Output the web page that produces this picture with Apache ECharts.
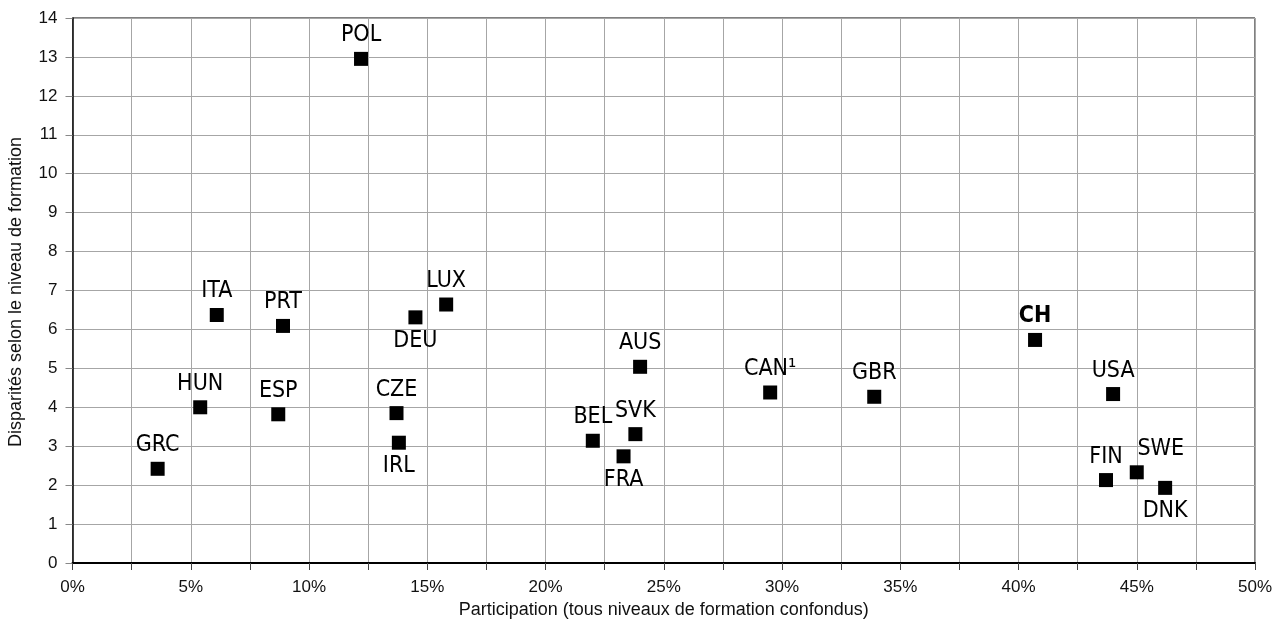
<!DOCTYPE html>
<html>
<head>
<meta charset="utf-8">
<script src="https://cdn.jsdelivr.net/npm/echarts@6/dist/echarts.min.js"></script>
<style>
html,body{margin:0;padding:0;background:#fff;}
#chart{width:1285px;height:624px;}
</style>
</head>
<body>
<div id="chart"></div>
<script>
// ---- data ----
const countries = ['GRC','HUN','ITA','PRT','ESP','POL','CZE','IRL','DEU','LUX','BEL','FRA','SVK','AUS','CAN¹','GBR','CH','USA','FIN','SWE','DNK'];
const participation = [3.6, 5.4, 6.1, 8.9, 8.7, 12.2, 13.7, 13.8, 14.5, 15.8, 22.0, 23.3, 23.8, 24.0, 29.5, 33.9, 40.7, 44.0, 43.7, 45.0, 46.2];
const disparity = [2.42, 4.00, 6.37, 6.09, 3.82, 12.95, 3.85, 3.09, 6.31, 6.64, 3.14, 2.74, 3.31, 5.04, 4.38, 4.27, 5.73, 4.34, 2.13, 2.33, 1.93];
const xTickValues = [0, 5, 10, 15, 20, 25, 30, 35, 40, 45, 50];
const xTickLabels = ['0%','5%','10%','15%','20%','25%','30%','35%','40%','45%','50%'];
const xAxisTitle = 'Participation (tous niveaux de formation confondus)';
const yAxisTitle = 'Disparités selon le niveau de formation';

// ---- label styling ----
const labelsBelow = ['IRL','DEU','FRA','DNK'];
const labelsRight = ['SWE'];
const labelsBold = ['CH'];

const labelFont = "'Liberation Sans Narrow','DejaVu Sans Condensed',sans-serif";
const axisFont = "'Liberation Sans',Arial,Helvetica,sans-serif";

const seriesData = participation.map((x, i) => {
  const name = countries[i];
  const below = labelsBelow.includes(name);
  const d = {
    name: name,
    value: [x, disparity[i]],
    label: {
      position: below ? 'bottom' : 'top',
      distance: 5
    }
  };
  if (labelsRight.includes(name)) d.label.offset = [24, 0];
  if (labelsBold.includes(name)) d.label.fontWeight = 'bold';
  return d;
});

const chart = echarts.init(document.getElementById('chart'), null, {renderer: 'canvas'});
chart.setOption({
  animation: false,
  backgroundColor: '#fff',
  grid: {
    left: 72.5, right: 30, top: 18, bottom: 57.7,
    show: true, borderColor: '#000', borderWidth: 1, backgroundColor: 'transparent'
  },
  xAxis: {
    type: 'value',
    min: 0, max: 50, interval: 2.5,
    name: xAxisTitle,
    nameLocation: 'middle',
    nameGap: 38,
    nameTextStyle: {fontFamily: axisFont, fontSize: 18, color: '#111'},
    axisLine: {show: true, onZero: false, lineStyle: {color: '#000', width: 2}},
    axisTick: {show: true, length: 7, lineStyle: {color: '#444', width: 1}},
    axisLabel: {
      fontFamily: axisFont, fontSize: 17, color: '#111', margin: 16,
      showMinLabel: true, showMaxLabel: true,
      formatter: function (v) {
        const idx = xTickValues.findIndex(t => Math.abs(t - v) < 1e-6);
        return idx >= 0 ? xTickLabels[idx] : '';
      }
    },
    splitLine: {show: true, lineStyle: {color: '#a6a6a6', width: 1}}
  },
  yAxis: {
    type: 'value',
    min: 0, max: 14, interval: 1,
    axisLine: {show: true, onZero: false, lineStyle: {color: '#000', width: 1.5}},
    axisTick: {show: true, length: 7, lineStyle: {color: '#888', width: 1}},
    axisLabel: {fontFamily: axisFont, fontSize: 17, color: '#111', margin: 15},
    splitLine: {show: true, lineStyle: {color: '#a6a6a6', width: 1}}
  },
  graphic: [{
    type: 'text',
    x: 16, y: 292,
    rotation: Math.PI / 2,
    style: {
      text: yAxisTitle,
      fontFamily: axisFont, fontSize: 18, fill: '#111',
      textAlign: 'center', textVerticalAlign: 'middle'
    }
  }],
  series: [{
    type: 'scatter',
    symbol: 'rect',
    symbolSize: 14,
    itemStyle: {color: '#000', opacity: 1},
    label: {
      show: true,
      formatter: '{b}',
      fontFamily: labelFont,
      fontSize: 23,
      color: '#000'
    },
    data: seriesData
  }]
});
</script>
</body>
</html>
